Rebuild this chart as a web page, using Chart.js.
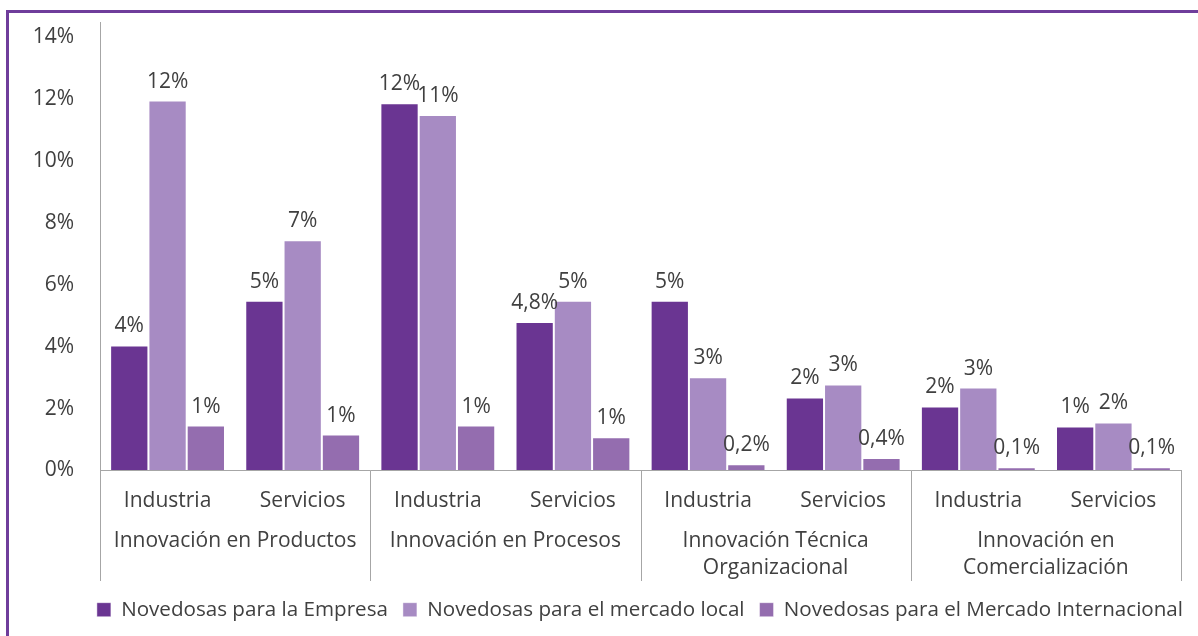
<!DOCTYPE html>
<html>
<head>
<meta charset="utf-8">
<title>Innovación</title>
<script src="https://cdn.jsdelivr.net/npm/chart.js@4/dist/chart.umd.min.js"></script>
<style>
  html, body { margin: 0; padding: 0; background: #fff; }
  #wrap { position: relative; width: 1198px; height: 636px; overflow: hidden; }
  #frame {
    position: absolute; left: 6px; top: 10px; right: -20px; bottom: -20px;
    border-left: 3px solid #6f3d9b; border-top: 3px solid #6f3d9b;
  }
  canvas { position: absolute; left: 0; top: 0; }
</style>
</head>
<body>
<div id="wrap">
  <div id="frame"></div>
  <canvas id="chart" width="1198" height="636"></canvas>
</div>
<script>
const subcats = ['Industria', 'Servicios', 'Industria', 'Servicios',
                 'Industria', 'Servicios', 'Industria', 'Servicios'];
const groups = [
  ['Innovación en Productos'],
  ['Innovación en Procesos'],
  ['Innovación Técnica', 'Organizacional'],
  ['Innovación en', 'Comercialización']
];
const seriesNames = ['Novedosas para la Empresa', 'Novedosas para el mercado local',
                     'Novedosas para el Mercado Internacional'];

// porcentajes por subcategoría
const empresa      = [4.04, 5.49, 11.87, 4.8, 5.49, 2.36, 2.07, 1.42];
const mercadoLocal = [11.96, 7.44, 11.49, 5.49, 3.01, 2.78, 2.68, 1.55];
const mercadoIntl  = [1.45, 1.16, 1.45, 1.07, 0.2, 0.4, 0.1, 0.1];

// decimales de cada etiqueta
const empresaDec      = [0, 0, 0, 1, 0, 0, 0, 0];
const mercadoLocalDec = [0, 0, 0, 0, 0, 0, 0, 0];
const mercadoIntlDec  = [0, 0, 0, 0, 1, 1, 1, 1];

const yTicks = [0, 2, 4, 6, 8, 10, 12, 14];

const colors = ['#6a3592', '#a78bc3', '#946daf'];
const FONT = '"Open Sans", "Noto Sans", sans-serif';
const SIZE = 21;
const TEXT = '#404040';
const AXIS = '#a6a6a6';

function fmt(v, d) {
  return v.toFixed(d).replace('.', ',') + '%';
}

const barLabels = {
  id: 'barLabels',
  afterDatasetsDraw(chart) {
    const ctx = chart.ctx;
    const decs = [empresaDec, mercadoLocalDec, mercadoIntlDec];
    ctx.save();
    ctx.font = SIZE + 'px ' + FONT;
    ctx.fillStyle = TEXT;
    ctx.textAlign = 'center';
    ctx.textBaseline = 'alphabetic';
    chart.data.datasets.forEach((ds, i) => {
      chart.getDatasetMeta(i).data.forEach((bar, j) => {
        ctx.fillText(fmt(ds.data[j], decs[i][j]), bar.x, bar.y - 13);
      });
    });
    ctx.restore();
  }
};

// segundo nivel del eje x: separadores y nombres de grupo
const groupAxis = {
  id: 'groupAxis',
  afterDraw(chart) {
    const x = chart.scales.x;
    const ctx = chart.ctx;
    const w = (x.right - x.left) / subcats.length;
    const per = subcats.length / groups.length;
    ctx.save();
    ctx.strokeStyle = AXIS;
    ctx.lineWidth = 1;
    for (let g = 0; g <= groups.length; g++) {
      const px = Math.round(x.left + g * per * w) + 0.5;
      ctx.beginPath();
      ctx.moveTo(px, x.top);
      ctx.lineTo(px, 581);
      ctx.stroke();
    }
    ctx.font = SIZE + 'px ' + FONT;
    ctx.fillStyle = TEXT;
    ctx.textAlign = 'center';
    ctx.textBaseline = 'middle';
    groups.forEach((lines, g) => {
      const cx = x.left + (g + 0.5) * per * w;
      lines.forEach((t, k) => ctx.fillText(t, cx, 541 + k * 27));
    });
    ctx.restore();
  }
};

new Chart(document.getElementById('chart'), {
  type: 'bar',
  data: {
    labels: subcats,
    datasets: [empresa, mercadoLocal, mercadoIntl].map((d, i) => ({
      label: seriesNames[i],
      data: d,
      backgroundColor: colors[i],
      borderColor: 'rgba(255,255,255,0.45)',
      borderWidth: 1,
      categoryPercentage: 0.85,
      barPercentage: 1.0
    }))
  },
  options: {
    responsive: false,
    animation: false,
    layout: { padding: { left: 0, right: 0, top: 22, bottom: 6 } },
    plugins: {
      tooltip: { enabled: false },
      legend: {
        position: 'bottom',
        align: 'end',
        labels: {
          boxWidth: 14,
          boxHeight: 14,
          padding: 15,
          color: TEXT,
          font: { family: FONT, size: 20.6 }
        }
      }
    },
    scales: {
      x: {
        grid: { display: false },
        border: { display: true, color: AXIS },
        ticks: { color: TEXT, padding: 10, font: { family: FONT, size: SIZE }, maxRotation: 0 },
        afterFit(s) { s.height = 114; }
      },
      y: {
        min: 0,
        max: 14.5,
        afterBuildTicks(s) { s.ticks = yTicks.map(v => ({ value: v })); },
        grid: { display: true, drawOnChartArea: false, drawTicks: false },
        border: { display: true, color: AXIS },
        ticks: {
          color: TEXT,
          padding: 26,
          font: { family: FONT, size: SIZE },
          callback: v => v + '%'
        },
        afterFit(s) {
          s.width = 100;
          s.paddingTop = 0;
          s.paddingBottom = 0;
        }
      },
      // margen derecho del área de trazado
      yRight: {
        position: 'right',
        display: true,
        grid: { display: false },
        border: { display: false },
        ticks: { display: false },
        afterFit(s) { s.width = 17; }
      }
    }
  },
  plugins: [barLabels, groupAxis]
});
</script>
</body>
</html>
